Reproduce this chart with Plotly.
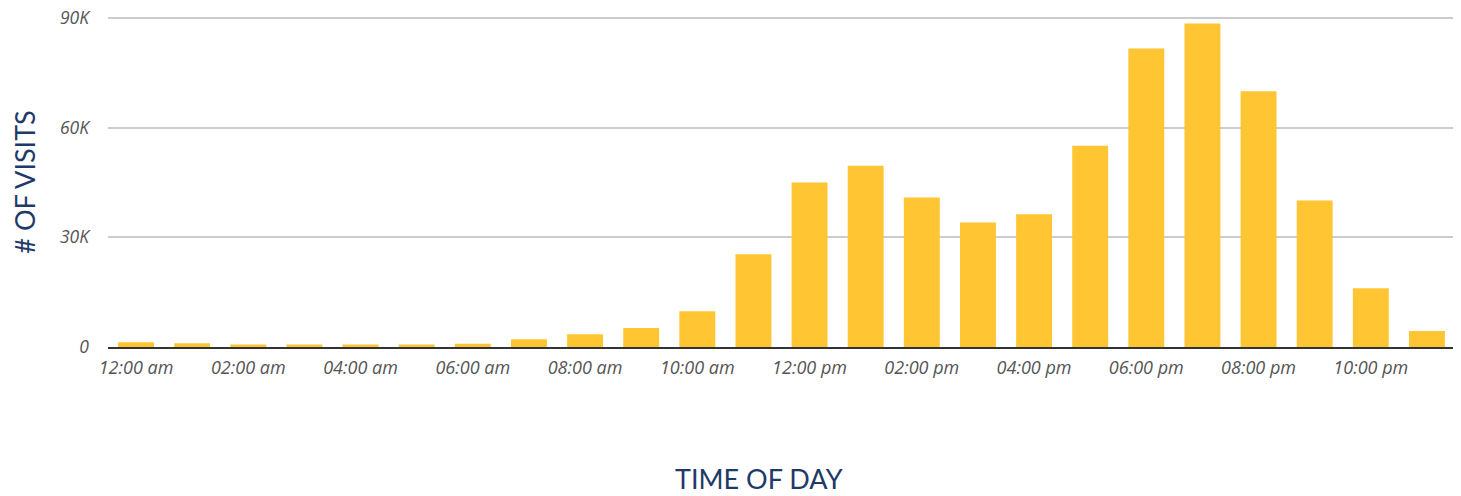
import plotly.graph_objects as go

hours = ["12:00 am", "01:00 am", "02:00 am", "03:00 am", "04:00 am", "05:00 am",
         "06:00 am", "07:00 am", "08:00 am", "09:00 am", "10:00 am", "11:00 am",
         "12:00 pm", "01:00 pm", "02:00 pm", "03:00 pm", "04:00 pm", "05:00 pm",
         "06:00 pm", "07:00 pm", "08:00 pm", "09:00 pm", "10:00 pm", "11:00 pm"]
visits = [1300, 1000, 700, 700, 700, 700, 900, 2100, 3500, 5200, 9800, 25400,
          45000, 49600, 40900, 34100, 36300, 55100, 81700, 88500, 70000, 40100, 16100, 4400]
tick_labels = hours[::2]
y_ticks = [0, 30000, 60000, 90000]
y_tick_text = ["0", "30K", "60K", "90K"]

fig = go.Figure(go.Bar(x=hours, y=visits, marker_color="#FFC533", marker_line_width=0))

fig.update_layout(
    width=1453, height=488,
    margin=dict(l=100, r=6, t=9, b=149),
    paper_bgcolor="white", plot_bgcolor="white",
    bargap=0.36,
    showlegend=False,
    font=dict(family="Open Sans", color="#555555"),
    annotations=[dict(
        text="TIME OF DAY", xref="paper", yref="paper", x=0.483, y=-0.397,
        xanchor="center", yanchor="middle", showarrow=False,
        font=dict(family="Lato", size=27, color="#1F3A68"),
    )],
)
fig.update_xaxes(
    type="category",
    tickvals=tick_labels, ticktext=tick_labels,
    tickfont=dict(family="Open Sans", size=18, color="#555555", style="italic"),
    showline=True, linecolor="#333333", linewidth=2,
    showgrid=False, ticks="", ticklabelstandoff=3,
    automargin=False,
)
fig.update_yaxes(
    range=[0, 90300],
    tickvals=y_ticks, ticktext=y_tick_text,
    tickfont=dict(family="Open Sans", size=17.5, color="#555555", style="italic"),
    showgrid=True, gridcolor="#CCCCCC", gridwidth=1.5,
    zeroline=False, ticks="", ticklabelstandoff=18,
    ticklabeloverflow="allow",
    automargin=False,
    title=dict(text="# OF VISITS", font=dict(family="Lato", size=27, color="#1F3A68"), standoff=24),
)

fig.write_html("out.html")
